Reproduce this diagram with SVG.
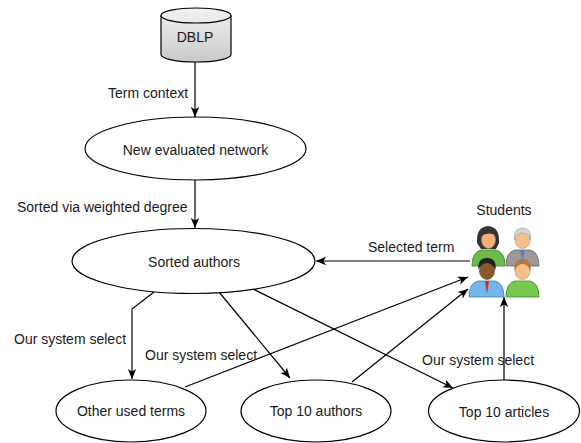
<svg xmlns="http://www.w3.org/2000/svg" width="581" height="443" viewBox="0 0 581 443">
  <style>
    .node { fill: #ffffff; stroke: #000000; stroke-width: 1.2; }
    .label { font-family: "Liberation Sans", Arial, sans-serif; font-size: 14px; fill: #1a1a1a; }
    .mid { text-anchor: middle; }
    .edge { fill: none; stroke: #000000; stroke-width: 1.2; marker-end: url(#arrow); }
  </style>
  <defs>
    <marker id="arrow" markerUnits="userSpaceOnUse" markerWidth="11" markerHeight="10" refX="10" refY="5" orient="auto">
      <path d="M0,0.8 L10,5 L0,9.2 L2.6,5 Z" fill="#000000"/>
    </marker>
    <linearGradient id="cyl" x1="0" y1="0" x2="0" y2="1">
      <stop offset="0" stop-color="#f2f2f2"/>
      <stop offset="1" stop-color="#c9c9c9"/>
    </linearGradient>
  </defs>

  <rect width="581" height="443" fill="#ffffff"/>

  <!-- connectors -->
  <g id="connectors">
    <path class="edge" d="M195 62 V117"/>
    <path class="edge" d="M195 180 V228"/>
    <path class="edge" d="M470 261 H316"/>
    <path class="edge" d="M154 292 L132 309 V379"/>
    <path class="edge" d="M219 292 L290 378"/>
    <path class="edge" d="M253 289 L453 388"/>
    <path class="edge" d="M185 387 L468 277"/>
    <path class="edge" d="M352 382 L468 289"/>
    <path class="edge" d="M504 380 V297"/>
    <text class="label" x="108" y="98">Term context</text>
    <text class="label" x="17" y="212">Sorted via weighted degree</text>
    <text class="label" x="368" y="252">Selected term</text>
    <text class="label" x="14" y="344">Our system select</text>
    <text class="label" x="145" y="360">Our system select</text>
    <text class="label" x="422" y="365">Our system select</text>
  </g>

  <!-- database cylinder -->
  <g id="dblp">
    <path d="M161 15.5 V54.5 A35 7.5 0 0 0 231 54.5 V15.5 A35 7.5 0 0 0 161 15.5 Z" fill="url(#cyl)" stroke="#000" stroke-width="1.2"/>
    <path d="M161 15.5 A35 7.5 0 0 0 231 15.5" fill="none" stroke="#000" stroke-width="1.2"/>
    <text class="label mid" x="195" y="42">DBLP</text>
  </g>

  <g id="new-evaluated-network">
    <ellipse class="node" cx="195.5" cy="148.5" rx="110.5" ry="31.5"/>
    <text class="label mid" x="195.5" y="155">New evaluated network</text>
  </g>

  <g id="sorted-authors">
    <ellipse class="node" cx="193.5" cy="261" rx="121.5" ry="32.5"/>
    <text class="label mid" x="194" y="267">Sorted authors</text>
  </g>

  <g id="other-used-terms">
    <ellipse class="node" cx="131" cy="411" rx="75" ry="31"/>
    <text class="label mid" x="131" y="416">Other used terms</text>
  </g>

  <g id="top-10-authors">
    <ellipse class="node" cx="316" cy="411" rx="75" ry="31"/>
    <text class="label mid" x="316" y="416">Top 10 authors</text>
  </g>

  <g id="top-10-articles">
    <ellipse class="node" cx="504" cy="411" rx="75.5" ry="31"/>
    <text class="label mid" x="504" y="417">Top 10 articles</text>
  </g>

  <!-- students icon: four people -->
  <g id="students">
    <text class="label mid" x="504" y="215">Students</text>
    <!-- woman, top left -->
    <g>
      <path d="M472 266 Q472 252 481 250 L496 250 Q505 252 505 266 Z" fill="#6dbb4a" stroke="#3f7f2a" stroke-width="0.8"/>
      <path d="M477 243 Q476 227 488 226 Q500 227 499 243 L496 249 L481 249 Z" fill="#333333"/>
      <ellipse cx="488.5" cy="240" rx="7" ry="8.5" fill="#f2b27a" stroke="#b77a45" stroke-width="0.6"/>
      <path d="M480 236 Q482 228 489 229 Q496 229 497 236 Q490 231 480 236 Z" fill="#333333"/>
    </g>
    <!-- old man, top right -->
    <g>
      <path d="M506 266 Q506 252 515 250 L530 250 Q539 252 539 266 Z" fill="#9a9a9a" stroke="#666" stroke-width="0.8"/>
      <path d="M520 250 L522.5 260 L525 250 Z" fill="#5a7fc0"/>
      <ellipse cx="522.5" cy="240" rx="7.5" ry="8.5" fill="#f3c08c" stroke="#b98650" stroke-width="0.6"/>
      <path d="M514.5 240 Q513 228 522.5 228 Q532 228 530.5 240 Q529 233 522.5 233 Q516 233 514.5 240 Z" fill="#d4d4d4" stroke="#999" stroke-width="0.5"/>
    </g>
    <!-- man with tie, bottom left -->
    <g>
      <path d="M469 297 Q469 283 478 281 L495 281 Q504 283 504 297 Z" fill="#74b6ea" stroke="#3d7fb8" stroke-width="0.8"/>
      <path d="M485 281 L487 294 L489 281 Z" fill="#d9261c"/>
      <ellipse cx="487" cy="271" rx="7.5" ry="8.5" fill="#8a5a2e" stroke="#5a3a1c" stroke-width="0.6"/>
      <path d="M478.5 270 Q477 258 487 258 Q497 258 495.5 270 Q492 263 487 263 Q481 263 478.5 270 Z" fill="#222222"/>
    </g>
    <!-- person, bottom right -->
    <g>
      <path d="M506 297 Q506 283 515 281 L530 281 Q539 283 539 297 Z" fill="#78c850" stroke="#3f8a2a" stroke-width="0.8"/>
      <ellipse cx="522.5" cy="271" rx="7.5" ry="8.5" fill="#f3c08c" stroke="#b98650" stroke-width="0.6"/>
      <path d="M514.5 271 Q513 259 522.5 259 Q532 259 530.5 271 Q528 264 522.5 264 Q517 264 514.5 271 Z" fill="#b27a3e"/>
    </g>
  </g>
</svg>
